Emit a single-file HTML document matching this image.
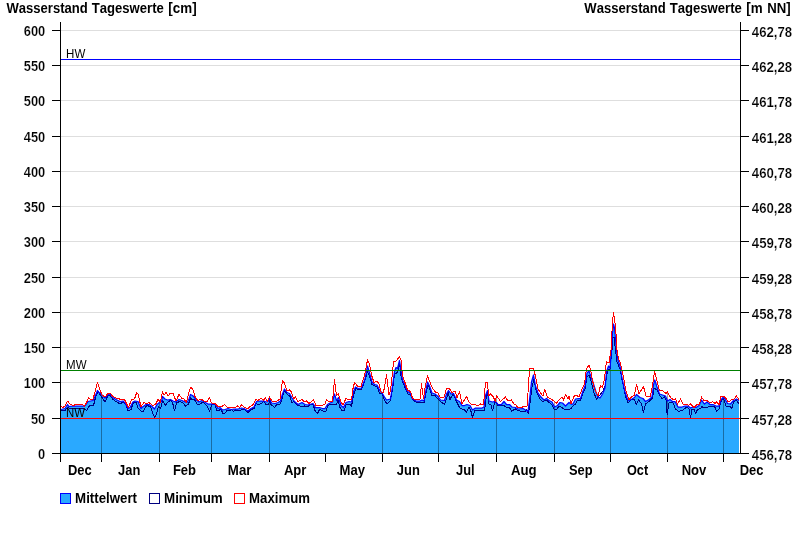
<!DOCTYPE html>
<html><head><meta charset="utf-8"><title>Wasserstand Tageswerte</title>
<style>
html,body{margin:0;padding:0;background:#fff}
body{width:800px;height:550px;overflow:hidden}
svg{display:block}
text{font-family:"Liberation Sans",Arial,sans-serif;font-kerning:none}
.b{font-weight:bold;font-size:14px;fill:#000}
.n{stroke:#fff;stroke-width:0.2px}
.s{font-size:12px;fill:#000}
</style></head><body>
<svg width="800" height="550" viewBox="0 0 800 550">
<rect width="800" height="550" fill="#fff"/>
<path d="M61,418.5H740 M61,382.5H740 M61,347.5H740 M61,312.5H740 M61,277.5H740 M61,241.5H740 M61,206.5H740 M61,171.5H740 M61,136.5H740 M61,100.5H740 M61,65.5H740 M61,30.5H740" stroke="#dedede" stroke-width="1.2" fill="none"/>
<path d="M60.5,409.5 L61,409.5 L65,408.5 L67.5,404.5 L69,406.5 L73,406.2 L83,406.2 L85,405.5 L88,401.5 L93,400.5 L95.5,395.5 L97.5,390.5 L99,392.5 L101.5,394.5 L105,398 L108,394.5 L110,394 L113,397.5 L116,399.5 L120,401.5 L123,401 L125,403 L128,408.5 L130,407.5 L133,402 L135,401 L138,401.5 L141,408.5 L142.5,407 L146,404.5 L149,404.5 L152,406.5 L154.5,409 L157,404.5 L159.5,402.5 L161.5,401.5 L162.5,396.5 L165,399 L167.5,400 L170.5,399.5 L173,401 L175.5,402 L179,399.5 L182,400.5 L185,402 L187,402.5 L189,399 L190.5,394.5 L192.5,395.5 L194.5,397.5 L196.5,400 L199,402 L202,400.5 L204.5,402 L208,404 L215,404 L218,408.5 L220,407.5 L222.5,410 L225,409.5 L228,408.5 L231,409.5 L234,409 L238,409 L241.5,408 L244,408.5 L248,411 L251,408.5 L254,407 L256.5,401.5 L260,401 L264,401 L266,402 L268,401.5 L269.5,398.5 L271.5,403 L275,403.5 L278,402.5 L280.5,401 L282.5,394 L284.5,389 L287,392.5 L289.5,393.5 L292,398 L294.5,401.5 L298,404.5 L302,402.5 L305,404.5 L308,405 L313,403.5 L315.5,407.5 L319.5,407.5 L322.5,408.5 L325,408.5 L327.5,404.5 L330,403 L332.5,402 L334.5,394 L336.5,400.5 L338.5,397.5 L341,405.5 L343.5,407.5 L346,402.5 L349,401.5 L351.5,402 L353.5,391.5 L355.5,387 L358,388.5 L361.5,388 L365,379 L367.5,366 L369.5,373 L372,382 L374.5,384.5 L377,385 L379.5,390 L382,393 L384.5,397 L386.5,400 L390.5,399 L392.5,386 L394.5,371.5 L396,367.5 L397.5,368.5 L399.5,360.5 L401,370 L402.5,380 L405,385 L407,391 L410,393 L412.5,399 L416,401 L420,401 L422,400 L424,401 L426,390 L427.5,382 L429.5,386 L432,393 L435,394 L438,396.5 L440.5,400 L444.5,400.5 L446.5,394 L448.5,390.5 L451,394 L453.5,393.5 L456.5,400 L459.5,401.5 L462,405.5 L464.5,405.5 L467,404.5 L470,405.5 L472.5,410 L475.5,408 L482,408 L484,407 L485.5,395.5 L487.5,390.5 L489,401 L492.5,402 L494.5,401.5 L496.5,402.5 L498,404.5 L501.5,404.5 L504,401.5 L506.5,404.5 L509.5,404.5 L512,407 L515.5,407.5 L518,409 L523,408.5 L525.5,410 L528,411.5 L529.5,400 L531.5,382 L533.5,375 L535.5,386 L538,393 L541,397 L544,400 L546.5,398.5 L549,400.5 L552,402 L554.5,407 L557.5,405.5 L560,402.5 L562.5,403 L565.5,406 L569,402.5 L571,404 L573,404 L575.5,399 L578.5,398.5 L580.5,398.5 L583,391 L585,386 L587,373 L589,371 L590,374 L590.5,375 L591,376 L593.5,384 L596,392 L598,397 L600,398 L602.5,394 L605,388 L606.5,372 L608.5,366 L610,368 L611.5,350 L612.5,333 L613.5,324 L614.5,328 L615.5,339 L616.5,350 L618,360 L620,366 L622,378 L623.5,385 L625,392 L627.5,399.5 L629,400.5 L632,399 L634.5,397.5 L636.5,394.5 L640,397.5 L643,398.5 L645.5,401.5 L649,399.5 L652,397 L653.5,385 L654.8,380 L657,387 L659.5,394 L662.5,395 L665.5,396 L667.5,401 L670,399.5 L672.5,401.5 L675,401.5 L678,407 L682,407 L685,406 L688,406 L690.5,408 L693,407 L696,407.5 L699,405.5 L701.5,400 L704.5,404 L707,402 L710,404.5 L713,404.5 L716,406 L719,406 L721,400 L723,397.5 L725,399 L727.5,403.5 L730.5,404 L733,401 L736.5,399 L739,400.5 L739,453.5 L60.5,453.5 Z" fill="#2aa9ff" stroke="none"/>
<path d="M101.5,393.8V453" stroke="#000" stroke-opacity="0.36" stroke-width="1"/>
<path d="M159.5,401.0V453" stroke="#000" stroke-opacity="0.36" stroke-width="1"/>
<path d="M211.5,403.0V453" stroke="#000" stroke-opacity="0.36" stroke-width="1"/>
<path d="M269.5,397.0V453" stroke="#000" stroke-opacity="0.36" stroke-width="1"/>
<path d="M382.5,392.3V453" stroke="#000" stroke-opacity="0.36" stroke-width="1"/>
<path d="M438.5,394.0V453" stroke="#000" stroke-opacity="0.36" stroke-width="1"/>
<path d="M496.5,395.5V453" stroke="#000" stroke-opacity="0.36" stroke-width="1"/>
<path d="M554.5,401.4V453" stroke="#000" stroke-opacity="0.36" stroke-width="1"/>
<path d="M610.5,353.2V453" stroke="#000" stroke-opacity="0.36" stroke-width="1"/>
<path d="M667.5,392.0V453" stroke="#000" stroke-opacity="0.36" stroke-width="1"/>
<path d="M723.5,396.5V453" stroke="#000" stroke-opacity="0.36" stroke-width="1"/>
<path d="M60.5,410.5 L61,410.5 L64.5,411 L67.5,407.5 L70,408.5 L83,408.5 L86.5,410.5 L90,405 L93.5,405.5 L96,395.5 L98,391.5 L101,396 L105,402 L108,395.5 L110,395.5 L113,399.5 L120,404 L123,402 L126,405 L128,411 L131,409.5 L133.5,402 L136,402 L138,408 L141,411 L143.5,411 L146.5,405.5 L150.5,406.5 L153,414 L154.5,417.5 L156,415.5 L158.5,406.5 L160.5,408.5 L162.5,401 L165.5,405 L168,402 L171,400 L173,404.5 L174.5,411 L176.5,403 L179.5,401.5 L182.5,402.5 L185.5,406 L188.5,404 L190.5,398 L192.5,400 L194.5,399.5 L197,404 L200,404 L203,402 L207,406 L209.5,411 L212,404.5 L215,404.5 L217,411 L218,410.5 L221,409.5 L223,413.5 L225,413 L227,410.5 L230,411 L231.5,409.5 L233.5,411.5 L235.5,410 L239,411 L242.5,409.5 L245,410 L248,412.5 L251,409.5 L254,408.5 L256,403 L258.5,405 L261,403.5 L264,401.5 L266,404.5 L268.8,404 L269.5,399.5 L271,404.5 L274.5,407.5 L277,404.5 L280.5,404 L282.5,397 L284.5,390.5 L287,394 L290,396.5 L292,403 L293.5,401.5 L298,405.5 L302,406.5 L304.5,406 L308,406.5 L310.5,404.5 L313,404.5 L315,410.5 L317.5,413.5 L319.5,409.5 L323,411 L326,411 L328,405.5 L330.5,404 L333.5,404 L336.5,404 L338,400 L340,407.5 L342,411 L344,410.5 L346.5,404 L350,404 L351.5,406.5 L353.5,395 L356,388 L358,390 L361.5,389.5 L365,380 L367.5,371.5 L369.5,376 L372,384.5 L374.5,385.5 L377.5,387.5 L379.5,393 L382.5,394 L384.5,400.5 L387,404 L390,401 L392.5,390 L394.5,374 L396.5,373.5 L398,370.5 L399.5,362 L401,376 L403,383 L405.5,388.5 L408,394 L410.5,395 L413,400 L416.5,402.5 L420,402 L424,403 L426,393 L428,385 L429.5,388 L432,396 L435,395.5 L438,399 L441,402 L444.5,404.5 L446.5,399 L448,392.5 L450,399.5 L453,394 L456,400.5 L459.5,407.5 L462,409 L464,409.5 L466.5,412 L469,407.5 L470.5,409.5 L472.5,417.5 L474.5,411 L484.5,410.5 L486,399 L487.5,392 L489,404 L491,405 L492.5,411 L494.5,403 L496.5,402.5 L498,405.5 L503,405 L506,407 L509.5,407.5 L511.5,411 L515.5,409 L518,410.5 L522,411.5 L524.5,412 L526.5,410 L528.5,413.5 L530,403 L532,387 L534,379 L536,390 L538.5,396.5 L541.5,401 L544,401 L546,400 L548,401.5 L551.5,404.5 L554.5,409.5 L557,409 L559,406 L562.5,408 L565,410 L570.5,409 L573,406 L575.5,404 L577,401 L580.5,400.5 L583,392.5 L585,389 L587,376.5 L589,375.5 L590,377.5 L590.5,379 L592,385 L594,393 L596.5,399 L599,396 L603,391 L605.5,385 L606.5,375 L608.5,369 L610,369 L612,350 L613,337 L614,337 L615.5,350 L617,362 L620,369 L622.5,382 L625.5,396 L628,403 L631,400 L634,399 L636.5,404.5 L638.5,399.5 L641.5,404 L643.5,412.5 L645.5,404 L650,400.5 L652.5,398 L654,388 L657,390 L659.5,395 L662,398.5 L664.5,397 L666,400 L667.1,414.5 L669.2,402 L671.5,402 L673.5,403.5 L675.5,409 L679,411.5 L683,410 L687,407 L689,409 L690.5,417.5 L692,409.5 L694,409 L695.5,413.5 L697.5,409.5 L700.5,408.5 L702,406.5 L704,408 L708,407 L713,406 L715,407.5 L716.5,411.5 L719,409 L721.5,400 L723.5,398.5 L726,406 L728,407 L730,406.5 L732,408.5 L733.5,401.5 L736.5,400.5 L739,404" fill="none" stroke="#000080" stroke-width="1" stroke-linejoin="round" shape-rendering="crispEdges"/>
<path d="M60.5,409.5 L61,409.5 L65,408.5 L67.5,404.5 L69,406.5 L73,406.2 L83,406.2 L85,405.5 L88,401.5 L93,400.5 L95.5,395.5 L97.5,390.5 L99,392.5 L101.5,394.5 L105,398 L108,394.5 L110,394 L113,397.5 L116,399.5 L120,401.5 L123,401 L125,403 L128,408.5 L130,407.5 L133,402 L135,401 L138,401.5 L141,408.5 L142.5,407 L146,404.5 L149,404.5 L152,406.5 L154.5,409 L157,404.5 L159.5,402.5 L161.5,401.5 L162.5,396.5 L165,399 L167.5,400 L170.5,399.5 L173,401 L175.5,402 L179,399.5 L182,400.5 L185,402 L187,402.5 L189,399 L190.5,394.5 L192.5,395.5 L194.5,397.5 L196.5,400 L199,402 L202,400.5 L204.5,402 L208,404 L215,404 L218,408.5 L220,407.5 L222.5,410 L225,409.5 L228,408.5 L231,409.5 L234,409 L238,409 L241.5,408 L244,408.5 L248,411 L251,408.5 L254,407 L256.5,401.5 L260,401 L264,401 L266,402 L268,401.5 L269.5,398.5 L271.5,403 L275,403.5 L278,402.5 L280.5,401 L282.5,394 L284.5,389 L287,392.5 L289.5,393.5 L292,398 L294.5,401.5 L298,404.5 L302,402.5 L305,404.5 L308,405 L313,403.5 L315.5,407.5 L319.5,407.5 L322.5,408.5 L325,408.5 L327.5,404.5 L330,403 L332.5,402 L334.5,394 L336.5,400.5 L338.5,397.5 L341,405.5 L343.5,407.5 L346,402.5 L349,401.5 L351.5,402 L353.5,391.5 L355.5,387 L358,388.5 L361.5,388 L365,379 L367.5,366 L369.5,373 L372,382 L374.5,384.5 L377,385 L379.5,390 L382,393 L384.5,397 L386.5,400 L390.5,399 L392.5,386 L394.5,371.5 L396,367.5 L397.5,368.5 L399.5,360.5 L401,370 L402.5,380 L405,385 L407,391 L410,393 L412.5,399 L416,401 L420,401 L422,400 L424,401 L426,390 L427.5,382 L429.5,386 L432,393 L435,394 L438,396.5 L440.5,400 L444.5,400.5 L446.5,394 L448.5,390.5 L451,394 L453.5,393.5 L456.5,400 L459.5,401.5 L462,405.5 L464.5,405.5 L467,404.5 L470,405.5 L472.5,410 L475.5,408 L482,408 L484,407 L485.5,395.5 L487.5,390.5 L489,401 L492.5,402 L494.5,401.5 L496.5,402.5 L498,404.5 L501.5,404.5 L504,401.5 L506.5,404.5 L509.5,404.5 L512,407 L515.5,407.5 L518,409 L523,408.5 L525.5,410 L528,411.5 L529.5,400 L531.5,382 L533.5,375 L535.5,386 L538,393 L541,397 L544,400 L546.5,398.5 L549,400.5 L552,402 L554.5,407 L557.5,405.5 L560,402.5 L562.5,403 L565.5,406 L569,402.5 L571,404 L573,404 L575.5,399 L578.5,398.5 L580.5,398.5 L583,391 L585,386 L587,373 L589,371 L590,374 L590.5,375 L591,376 L593.5,384 L596,392 L598,397 L600,398 L602.5,394 L605,388 L606.5,372 L608.5,366 L610,368 L611.5,350 L612.5,333 L613.5,324 L614.5,328 L615.5,339 L616.5,350 L618,360 L620,366 L622,378 L623.5,385 L625,392 L627.5,399.5 L629,400.5 L632,399 L634.5,397.5 L636.5,394.5 L640,397.5 L643,398.5 L645.5,401.5 L649,399.5 L652,397 L653.5,385 L654.8,380 L657,387 L659.5,394 L662.5,395 L665.5,396 L667.5,401 L670,399.5 L672.5,401.5 L675,401.5 L678,407 L682,407 L685,406 L688,406 L690.5,408 L693,407 L696,407.5 L699,405.5 L701.5,400 L704.5,404 L707,402 L710,404.5 L713,404.5 L716,406 L719,406 L721,400 L723,397.5 L725,399 L727.5,403.5 L730.5,404 L733,401 L736.5,399 L739,400.5" fill="none" stroke="#0000ff" stroke-width="1.25" stroke-linejoin="round"/>
<path d="M60.5,406.2 L61,406.2 L62.6,407.7 L65.2,405.7 L67.5,401.1 L70,404 L73,405.5 L76,404.5 L82.5,404.2 L84.2,406.4 L86.5,402.6 L88.6,397.8 L91,399.5 L93,399 L95,392 L97.5,382.2 L100,390 L102,395 L105,397 L108,393.5 L110,393.2 L113,396.5 L116,398 L119,398.5 L121,400 L123,399 L125,400.5 L128.5,407.5 L131.5,399.5 L134.5,399 L136.5,393 L138,394 L141,406.5 L144,402.5 L146.5,403.5 L149,402.5 L153,406 L156,403.5 L158,399.5 L160.5,402 L162.5,391.5 L164,395 L166,392.5 L168,396 L170,393.5 L173,393.5 L176,401 L179,394.5 L182,398.5 L184,399 L186.5,402.5 L188.5,394 L190.5,387.5 L192.5,388.5 L195,396.5 L198,401 L200,399.5 L202,399.5 L204.5,401.5 L207,402 L209.5,397.5 L211.5,403 L215,403.5 L218,406.5 L222,406.5 L224.5,404.5 L227,407 L231,407.5 L235,408 L237.5,406 L239.5,407.5 L241.5,405 L244.5,407.5 L248,408.5 L250,406.5 L252.5,405.5 L256,399.5 L258,400.5 L261,398 L263.5,400 L265.5,398 L267.5,401.5 L269.5,397 L272.5,402 L276,401.5 L280,399 L282.5,380.5 L284,382.5 L287,390.5 L289.5,390 L291.5,392 L293.5,399 L295.5,397 L298,401.5 L302,399.5 L304.5,402 L306.5,401 L309,403.5 L313.5,400 L316,405.5 L322,405.5 L325,404 L326.5,399.5 L329,402 L332.5,401 L334.5,380 L336.5,395.5 L338.5,394 L340.5,401 L343,405 L346,398.5 L349,400 L351.5,399.5 L353,388.5 L354.5,382.5 L357.5,386 L358,386.5 L361,386.5 L364.5,375.5 L367.5,360 L369.5,364 L371.5,375 L374,382.5 L377,381 L379,384 L381,392 L383.5,392.5 L386.5,375 L389,395 L390.5,391 L392.5,372 L393.5,361.5 L396,361 L399.5,356.5 L401,360 L402.5,376 L405,382.5 L407.5,390 L410.5,391.5 L412.5,398 L415,399.5 L420,399.5 L421.5,384 L423.5,399 L425.5,385 L427.5,376 L429.5,381 L432.5,388.5 L435.5,392 L438,393 L440.5,398 L444,397.5 L446.5,388 L449,388 L452,392.5 L455,391 L457,397.5 L459.5,391.5 L462,404 L466.5,396.5 L469,402 L471.5,404.5 L475.5,404.5 L477.5,406 L480.5,404 L483.5,405 L485.5,382.5 L487.5,382.5 L488.5,396 L490.5,394 L493,396.5 L495.5,401.5 L496.5,395.5 L500.5,401.5 L505.5,397 L508,401 L511.5,400 L514,404 L516,405 L518,408 L522.5,407 L524,406 L527,406 L528.5,386 L529.5,368.5 L533.5,368.5 L535.5,376.5 L538,389 L541,393.5 L543,396 L544.8,389 L547.5,397.5 L552,399.5 L556.5,403 L558.5,400.5 L562,397 L563.5,400 L565.5,394.5 L568,398.5 L569,396.5 L571,403.5 L574,396.5 L576,395 L579,397 L582,389 L584.5,384.5 L586.5,368.5 L589,365 L590,368 L590.5,369.5 L592,378 L594.5,389 L597,394 L598,396 L600.5,385.5 L602.5,387 L604.5,379 L605.5,369 L606.5,361.5 L609,363 L611,350 L612,331 L612.8,319 L613.5,312.6 L614.4,318 L615.4,326 L616.3,338 L617,350 L618.5,359 L620,362 L622.5,372 L624.5,383 L626.5,393 L629,399.5 L632,396.5 L634.5,395 L636.5,384.5 L639,394 L643.5,386.5 L646,396 L650.5,396 L652.5,385 L654.5,371.5 L657,381 L659.5,391 L662,390 L666,393.5 L667.5,392 L670.5,397.5 L673,399.5 L675.5,399 L677.5,404 L680.5,399 L683,404 L686.5,404 L688.5,405.5 L690.5,404 L694,407.5 L697,404.5 L699.5,404 L701.5,397 L704,400.5 L707,400.5 L710,403 L712.5,401.5 L715,403.5 L716.5,402 L719,404.5 L721,396.5 L723.5,396.5 L725.5,397.5 L728,402 L730,401 L732,399.5 L734,399 L736.5,396 L739,399.5" fill="none" stroke="#ff0000" stroke-width="1" stroke-linejoin="round" shape-rendering="crispEdges"/>
<path d="M61,59.5H740" stroke="#0000ff" stroke-width="1.05"/>
<path d="M61,370.5H740" stroke="#008000" stroke-width="1.05"/>
<path d="M61,418.5H740" stroke="#ff0000" stroke-width="1.05"/>
<text class="s" transform="translate(66.1,58) scale(0.96,1)">HW</text>
<text class="s" transform="translate(66.1,369) scale(0.96,1)">MW</text>
<text class="s" transform="translate(66.1,417) scale(0.95,1)">NW</text>
<path d="M60.5,22V462 M740.5,22V454 M52,453.5H749 M52,418.5H60 M741,418.5H749 M52,382.5H60 M741,382.5H749 M52,347.5H60 M741,347.5H749 M52,312.5H60 M741,312.5H749 M52,277.5H60 M741,277.5H749 M52,241.5H60 M741,241.5H749 M52,206.5H60 M741,206.5H749 M52,171.5H60 M741,171.5H749 M52,136.5H60 M741,136.5H749 M52,100.5H60 M741,100.5H749 M52,65.5H60 M741,65.5H749 M52,30.5H60 M741,30.5H749 M101.5,454V462 M159.5,454V462 M211.5,454V462 M269.5,454V462 M325.5,454V462 M382.5,454V462 M438.5,454V462 M496.5,454V462 M554.5,454V462 M610.5,454V462 M667.5,454V462 M723.5,454V462" stroke="#000" stroke-width="1" fill="none" shape-rendering="crispEdges"/>
<text class="b n" transform="translate(45.2,459) scale(0.92,1)" text-anchor="end">0</text>
<text class="b n" transform="translate(751.8,460) scale(0.942,1)">456,78</text>
<text class="b n" transform="translate(45.2,424) scale(0.92,1)" text-anchor="end">50</text>
<text class="b n" transform="translate(751.8,425) scale(0.942,1)">457,28</text>
<text class="b n" transform="translate(45.2,388) scale(0.92,1)" text-anchor="end">100</text>
<text class="b n" transform="translate(751.8,389) scale(0.942,1)">457,78</text>
<text class="b n" transform="translate(45.2,353) scale(0.92,1)" text-anchor="end">150</text>
<text class="b n" transform="translate(751.8,354) scale(0.942,1)">458,28</text>
<text class="b n" transform="translate(45.2,318) scale(0.92,1)" text-anchor="end">200</text>
<text class="b n" transform="translate(751.8,319) scale(0.942,1)">458,78</text>
<text class="b n" transform="translate(45.2,283) scale(0.92,1)" text-anchor="end">250</text>
<text class="b n" transform="translate(751.8,284) scale(0.942,1)">459,28</text>
<text class="b n" transform="translate(45.2,247) scale(0.92,1)" text-anchor="end">300</text>
<text class="b n" transform="translate(751.8,248) scale(0.942,1)">459,78</text>
<text class="b n" transform="translate(45.2,212) scale(0.92,1)" text-anchor="end">350</text>
<text class="b n" transform="translate(751.8,213) scale(0.942,1)">460,28</text>
<text class="b n" transform="translate(45.2,177) scale(0.92,1)" text-anchor="end">400</text>
<text class="b n" transform="translate(751.8,178) scale(0.942,1)">460,78</text>
<text class="b n" transform="translate(45.2,142) scale(0.92,1)" text-anchor="end">450</text>
<text class="b n" transform="translate(751.8,143) scale(0.942,1)">461,28</text>
<text class="b n" transform="translate(45.2,106) scale(0.92,1)" text-anchor="end">500</text>
<text class="b n" transform="translate(751.8,107) scale(0.942,1)">461,78</text>
<text class="b n" transform="translate(45.2,71) scale(0.92,1)" text-anchor="end">550</text>
<text class="b n" transform="translate(751.8,72) scale(0.942,1)">462,28</text>
<text class="b n" transform="translate(45.2,36) scale(0.92,1)" text-anchor="end">600</text>
<text class="b n" transform="translate(751.8,37) scale(0.942,1)">462,78</text>
<text class="b" transform="translate(6.39,13) scale(0.9355,1)">Wasserstand</text><text class="b" transform="translate(91.75,13) scale(0.9359,1)">Tageswerte</text><text class="b" transform="translate(168.35,13) scale(0.9576,1)">[cm]</text>
<text class="b" transform="translate(584.29,13) scale(0.9355,1)">Wasserstand</text><text class="b" transform="translate(669.75,13) scale(0.9359,1)">Tageswerte</text><text class="b" transform="translate(746.35,13) scale(0.9576,1)">[m</text><text class="b" transform="translate(767.22,13) scale(0.9413,1)">NN]</text>
<text class="b" transform="translate(67.88,474.5) scale(0.9246,1)">Dec</text>
<text class="b" transform="translate(118.05,474.5) scale(0.9222,1)">Jan</text>
<text class="b" transform="translate(172.88,474.5) scale(0.9303,1)">Feb</text>
<text class="b" transform="translate(227.86,474.5) scale(0.9474,1)">Mar</text>
<text class="b" transform="translate(283.92,474.5) scale(0.9342,1)">Apr</text>
<text class="b" transform="translate(339.62,474.5) scale(0.9343,1)">May</text>
<text class="b" transform="translate(396.80,474.5) scale(0.9240,1)">Jun</text>
<text class="b" transform="translate(456.06,474.5) scale(0.9199,1)">Jul</text>
<text class="b" transform="translate(510.92,474.5) scale(0.9449,1)">Aug</text>
<text class="b" transform="translate(568.88,474.5) scale(0.9211,1)">Sep</text>
<text class="b" transform="translate(626.98,474.5) scale(0.9074,1)">Oct</text>
<text class="b" transform="translate(681.63,474.5) scale(0.9332,1)">Nov</text>
<text class="b" transform="translate(739.63,474.5) scale(0.9246,1)">Dec</text>
<rect x="60.5" y="493.5" width="10" height="10" fill="#2aa9ff" stroke="#0000ff"/>
<text class="b" transform="translate(75.11,502.5) scale(0.9481,1)">Mittelwert</text>
<rect x="149.5" y="493.5" width="10" height="10" fill="#fff" stroke="#000080"/>
<text class="b" transform="translate(164.00,502.5) scale(0.9575,1)">Minimum</text>
<rect x="234.5" y="493.5" width="10" height="10" fill="#fff" stroke="#ff0000"/>
<text class="b" transform="translate(249.12,502.5) scale(0.9432,1)">Maximum</text>
</svg></body></html>
